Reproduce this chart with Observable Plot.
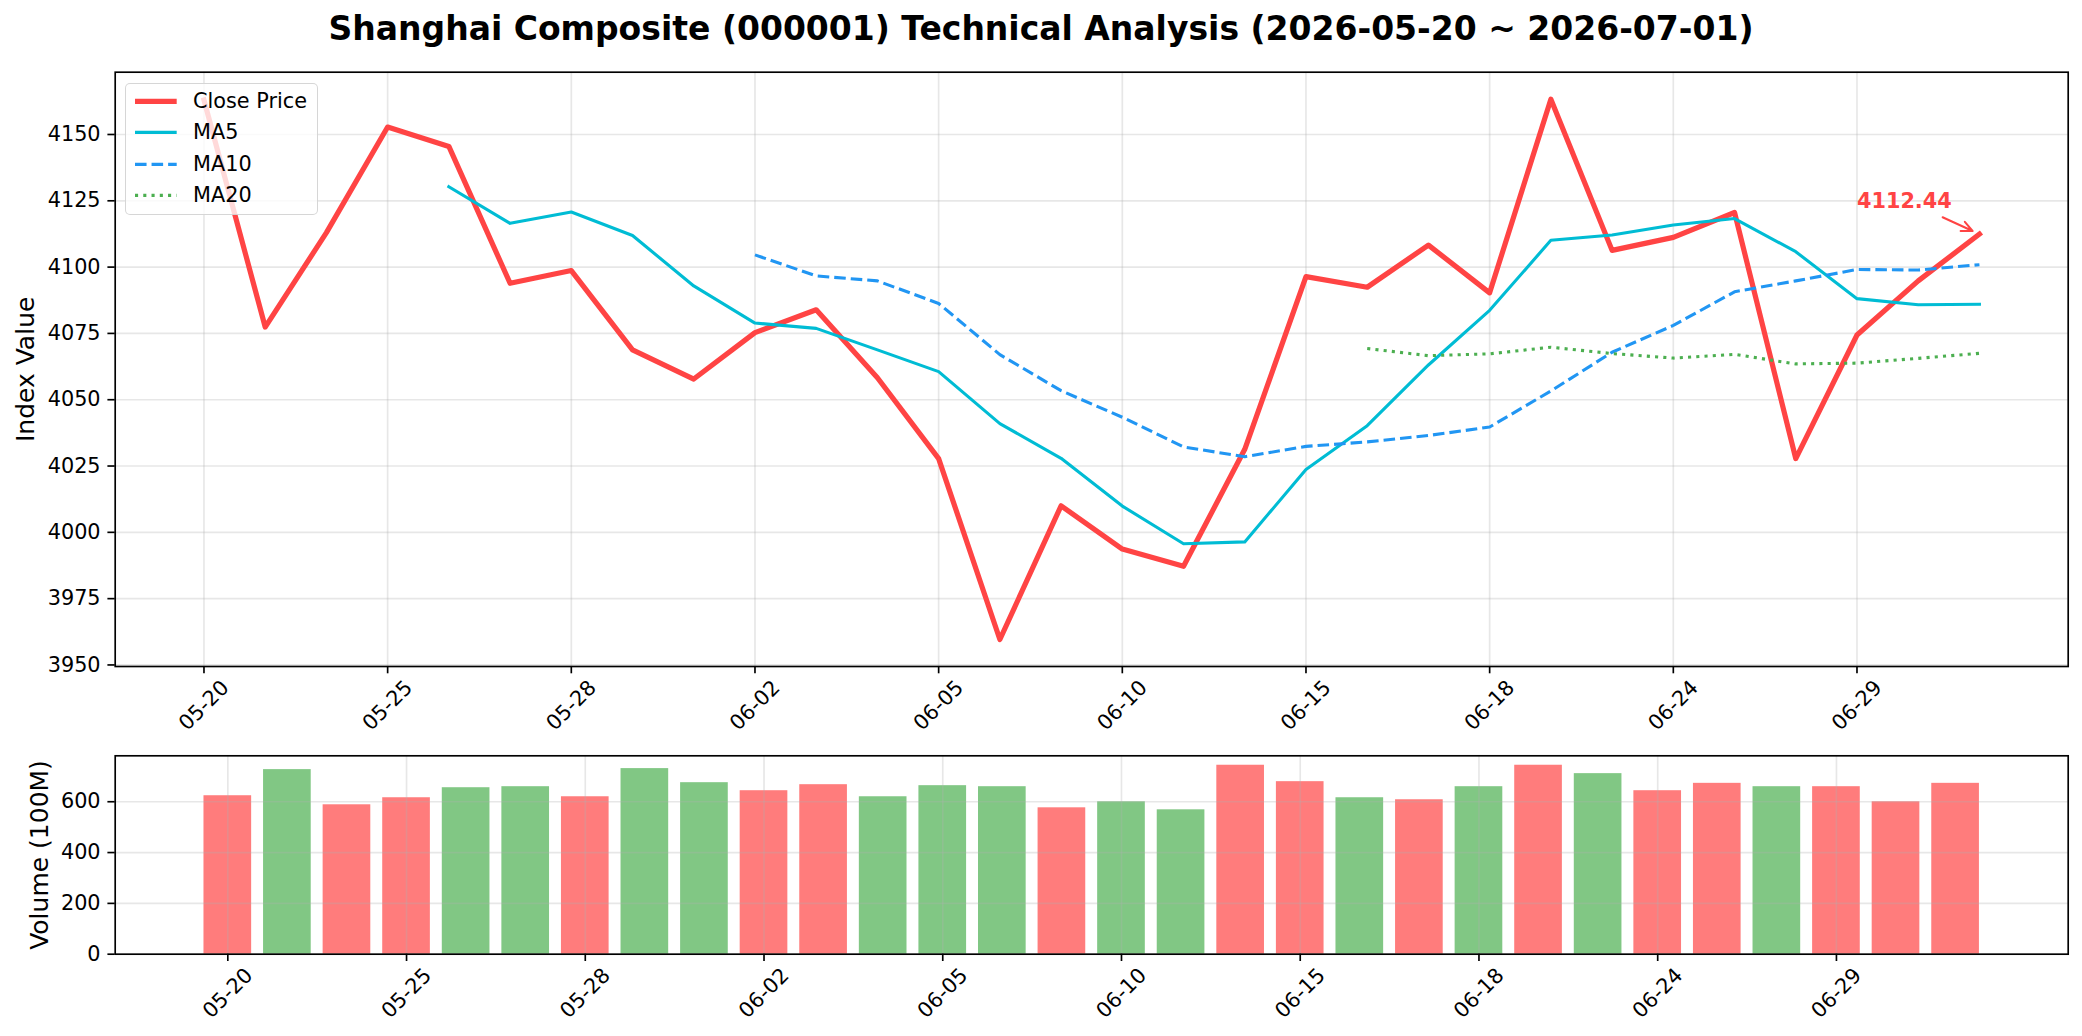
<!DOCTYPE html>
<html>
<head>
<meta charset="utf-8">
<script src="https://cdn.jsdelivr.net/npm/d3@7"></script>
<script src="https://cdn.jsdelivr.net/npm/@observablehq/plot@0.6"></script>
<style>
html, body { margin: 0; padding: 0; background: #fff; overflow: hidden; }
#fig { position: relative; width: 2082px; height: 1036px; overflow: hidden; font-family: "DejaVu Sans", sans-serif; color: #000; }
#title { position: absolute; left: 0; top: 12px; width: 2082px; text-align: center; font-weight: bold; font-size: 33px; line-height: 33px; white-space: nowrap; }
#top { position: absolute; left: 0; top: 0; }
#bottom { position: absolute; left: 0; top: 740px; }
#legend { position: absolute; left: 125px; top: 83px; width: 193px; height: 132px; box-sizing: border-box; border: 1.6px solid rgba(204,204,204,0.8); border-radius: 5px; background: rgba(255,255,255,0.8); }
.lg-row { position: absolute; left: 0; height: 20.8px; width: 190px; }
.lg-row svg { position: absolute; left: 7px; top: 0; }
.lg-row span { position: absolute; left: 67px; top: 0; font-size: 20.8px; line-height: 20.8px; white-space: nowrap; }
</style>
</head>
<body>
<div id="fig">
  <div id="top"></div>
  <div id="bottom"></div>
  <div id="title">Shanghai Composite (000001) Technical Analysis (2026-05-20 ~ 2026-07-01)</div>
  <div id="legend"></div>
</div>
<script>
// ---------------- data ----------------
const dates = ["05-20","05-21","05-22","05-25","05-26","05-27","05-28","05-29","06-01","06-02",
               "06-03","06-04","06-05","06-08","06-09","06-10","06-11","06-12","06-15","06-16",
               "06-17","06-18","06-22","06-23","06-24","06-25","06-26","06-29","06-30","07-01"];
const closePrice = [4163.0, 4077.4, 4113.0, 4152.8, 4145.5, 4093.9, 4098.7, 4068.8, 4057.8, 4075.3,
                    4083.9, 4058.3, 4027.8, 3959.6, 4010.0, 3993.7, 3987.2, 4031.3, 4096.4, 4092.4,
                    4108.3, 4090.3, 4163.3, 4106.3, 4111.2, 4120.6, 4027.8, 4074.4, 4094.8, 4112.44];
const ma5 = [null, null, null, null, 4130.3, 4116.5, 4120.8, 4111.9, 4092.9, 4078.9,
             4076.9, 4068.8, 4060.6, 4041.0, 4027.9, 4009.9, 3995.7, 3996.4, 4023.7, 4040.2,
             4063.1, 4083.7, 4110.1, 4112.1, 4115.9, 4118.3, 4105.8, 4088.1, 4085.8, 4086.0];
const ma10 = [null, null, null, null, null, null, null, null, null, 4104.6,
              4096.7, 4094.8, 4086.3, 4067.0, 4053.4, 4043.4, 4032.2, 4028.5, 4032.4, 4034.1,
              4036.5, 4039.7, 4053.3, 4067.9, 4078.0, 4090.7, 4094.8, 4099.1, 4098.9, 4100.9];
const ma20 = [null, null, null, null, null, null, null, null, null, null,
              null, null, null, null, null, null, null, null, null, 4069.3,
              4066.6, 4067.3, 4069.8, 4067.4, 4065.7, 4067.1, 4063.5, 4063.8, 4065.6, 4067.5];
const volume = [623.6, 726.4, 588.0, 615.7, 655.2, 659.2, 619.6, 730.4, 675.0, 643.4,
                667.1, 619.6, 663.2, 659.2, 576.1, 599.9, 568.2, 743.6, 679.0, 615.7,
                607.8, 659.2, 743.6, 710.6, 643.4, 672.4, 659.2, 659.2, 599.9, 672.4];
const upDay = [1, 0, 1, 1, 0, 0, 1, 0, 0, 1,
               1, 0, 0, 0, 1, 0, 0, 1, 1, 0,
               1, 0, 1, 0, 1, 1, 0, 1, 1, 1];
const tickIdx = [0, 3, 6, 9, 12, 15, 18, 21, 24, 27];
const priceTicks = [3950, 3975, 4000, 4025, 4050, 4075, 4100, 4125, 4150];
const volumeTicks = [0, 200, 400, 600];

// ---------------- styles ----------------
const RED = "#FF4444", CYAN = "#00BCD4", BLUE = "#2196F3", GREEN = "#4CAF50";
const GRID = "#b0b0b0";
const W = 2082;
const FONT = 20.8;
const CLOSE_W = 5.2, MA_W = 3.1;

const rows = dates.map((d, i) => ({
  i, date: d, close: closePrice[i], ma5: ma5[i], ma10: ma10[i], ma20: ma20[i],
  vol: volume[i], up: upDay[i]
}));
const n = rows.length;
const last = n - 1;

// matplotlib-style 5% auto margins
const allVals = [...closePrice, ...ma5, ...ma10, ...ma20].filter(v => v != null);
const yMin = d3.min(allVals), yMax = d3.max(allVals);
const yPad = (yMax - yMin) * 0.05;
const xPadTop = (n - 1) * 0.05;
const barW = 0.8;
const xPadBot = ((n - 1) + barW) * 0.05;

const rootStyle = { fontFamily: "DejaVu Sans", fontSize: FONT + "px", color: "#000", background: "transparent", overflow: "visible" };

const xLabelMark = () => Plot.text(tickIdx, {
  x: d => d, text: d => dates[d], frameAnchor: "bottom", dy: 39,
  rotate: -45, textAnchor: "middle", lineAnchor: "middle", fontSize: FONT
});

// annotation of last close
const ann = [{ x: last - 2, y: closePrice[last] + 10, label: closePrice[last].toFixed(2),
               cx: last - 2 + 0.79, cy: closePrice[last] + 12.8, px: last, py: closePrice[last] }];

const topPlot = Plot.plot({
  width: W, height: 740,
  marginTop: 71.7, marginBottom: 740 - 666, marginLeft: 114.7, marginRight: W - 2067.7,
  style: rootStyle,
  x: { type: "linear", domain: [-xPadTop, (n - 1) + xPadTop] },
  y: { type: "linear", domain: [yMin - yPad, yMax + yPad] },
  marks: [
    Plot.gridX({ ticks: tickIdx, stroke: GRID, strokeOpacity: 0.3, strokeWidth: 1.67 }),
    Plot.gridY({ ticks: priceTicks, stroke: GRID, strokeOpacity: 0.3, strokeWidth: 1.67 }),
    Plot.line(rows, { x: "i", y: "close", stroke: RED, strokeWidth: CLOSE_W, strokeLinejoin: "round", strokeLinecap: "square" }),
    Plot.line(rows, { x: "i", y: "ma5", stroke: CYAN, strokeWidth: MA_W, strokeLinecap: "square" }),
    Plot.line(rows, { x: "i", y: "ma10", stroke: BLUE, strokeWidth: MA_W, strokeDasharray: "11.56 5", strokeLinecap: "butt" }),
    Plot.line(rows, { x: "i", y: "ma20", stroke: GREEN, strokeWidth: MA_W, strokeDasharray: "3.1 5.16", strokeLinecap: "butt" }),
    Plot.arrow(ann, { x1: "cx", y1: "cy", x2: "px", y2: "py", stroke: RED, strokeWidth: 2,
                      headLength: 9, headAngle: 50, insetStart: 41, insetEnd: 7.5 }),
    Plot.text(ann, { x: "x", y: "y", text: "label", textAnchor: "start", lineAnchor: "bottom",
                     fill: RED, fontWeight: "bold", fontSize: FONT }),
    Plot.axisX({ ticks: tickIdx, tickFormat: () => "", tickSize: 7.3, strokeWidth: 1.67, label: null }),
    xLabelMark(),
    Plot.axisY({ ticks: priceTicks, tickFormat: d => String(d), tickSize: 7.3, tickPadding: 7.3, strokeWidth: 1.67, label: null }),
    Plot.text(["Index Value"], { frameAnchor: "left", dx: -88.9, rotate: -90, textAnchor: "middle", lineAnchor: "middle", fontSize: 25 }),
    Plot.frame({ stroke: "#000", strokeWidth: 1.67 })
  ]
});
document.getElementById("top").appendChild(topPlot);

const bottomPlot = Plot.plot({
  width: W, height: 296,
  marginTop: 15.3, marginBottom: 1036 - 953.7, marginLeft: 114.7, marginRight: W - 2067.7,
  style: rootStyle,
  x: { type: "linear", domain: [-barW / 2 - xPadBot, (n - 1) + barW / 2 + xPadBot] },
  y: { type: "linear", domain: [0, d3.max(volume) * 1.05] },
  marks: [
    Plot.rect(rows, { x1: d => d.i - barW / 2, x2: d => d.i + barW / 2, y1: 0, y2: "vol",
                      fill: d => d.up ? RED : GREEN, fillOpacity: 0.7 }),
    Plot.gridX({ ticks: tickIdx, stroke: GRID, strokeOpacity: 0.3, strokeWidth: 1.67 }),
    Plot.gridY({ ticks: volumeTicks, stroke: GRID, strokeOpacity: 0.3, strokeWidth: 1.67 }),
    Plot.axisX({ ticks: tickIdx, tickFormat: () => "", tickSize: 7.3, strokeWidth: 1.67, label: null }),
    xLabelMark(),
    Plot.axisY({ ticks: volumeTicks, tickFormat: d => String(d), tickSize: 7.3, tickPadding: 7.3, strokeWidth: 1.67, label: null }),
    Plot.text(["Volume (100M)"], { frameAnchor: "left", dx: -75.1, rotate: -90, textAnchor: "middle", lineAnchor: "middle", fontSize: 25 }),
    Plot.frame({ stroke: "#000", strokeWidth: 1.67 })
  ]
});
document.getElementById("bottom").appendChild(bottomPlot);

// ---------------- legend ----------------
const legendItems = [
  { label: "Close Price", stroke: RED, width: CLOSE_W, dash: null },
  { label: "MA5", stroke: CYAN, width: MA_W, dash: null },
  { label: "MA10", stroke: BLUE, width: MA_W, dash: "11.56 5" },
  { label: "MA20", stroke: GREEN, width: MA_W, dash: "3.1 5.16" }
];
const legend = document.getElementById("legend");
legendItems.forEach((it, k) => {
  const row = document.createElement("div");
  row.className = "lg-row";
  row.style.top = (6.6 + 31.5 * k) + "px";
  const dash = it.dash ? ` stroke-dasharray="${it.dash}"` : "";
  row.innerHTML = `<svg width="46" height="20.8"><line x1="2" x2="43.7" y1="10.4" y2="10.4" stroke="${it.stroke}" stroke-width="${it.width}"${dash}/></svg><span>${it.label}</span>`;
  legend.appendChild(row);
});
</script>
</body>
</html>
